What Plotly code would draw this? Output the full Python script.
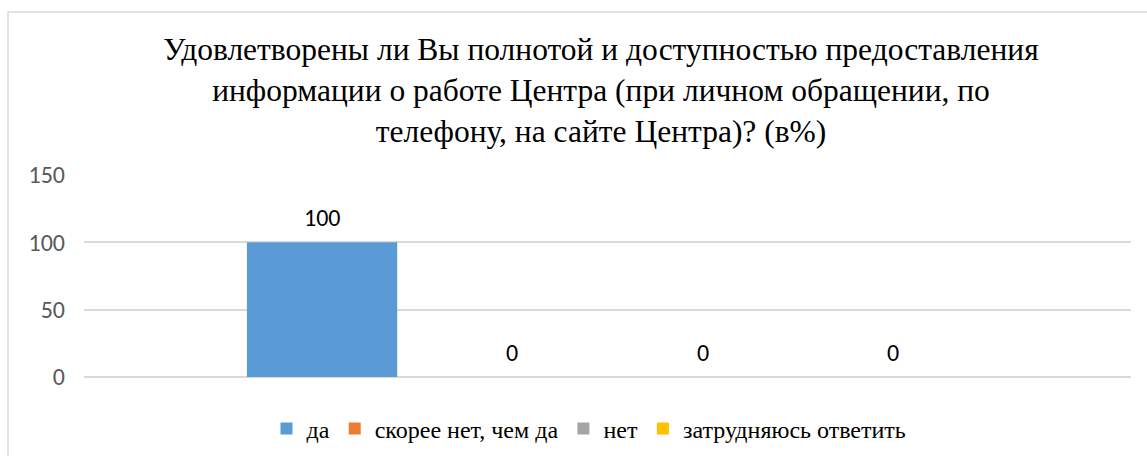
import plotly.graph_objects as go

categories = ["Ответ"]
series_names = ["да", "скорее нет, чем да", "нет", "затрудняюсь ответить"]
series_values = [100, 0, 0, 0]
series_colors = ["#5B9BD5", "#ED7D31", "#A5A5A5", "#FFC000"]
y_ticks = [0, 50, 100, 150]

title_text = ("Удовлетворены ли Вы полнотой и доступностью предоставления<br>"
              "информации о работе Центра (при личном обращении, по<br>"
              "телефону, на сайте Центра)? (в%)")

SERIF = "Times New Roman, Liberation Serif, serif"
SANS = "Calibri, Carlito, Liberation Sans, Arial, sans-serif"

W, H = 1147, 456
ML, MR, MT, MB = 84, 16, 175, 79
BARGAP = 0.273
plot_w = W - ML - MR
slot = plot_w * (1 - BARGAP) / len(series_names)

fig = go.Figure()
for name, val, col in zip(series_names, series_values, series_colors):
    fig.add_trace(go.Bar(
        x=categories, y=[val], name=name,
        marker=dict(color=col, line=dict(width=0)),
    ))

for i, val in enumerate(series_values):
    fig.add_annotation(
        x=categories[0], y=val, xref="x", yref="y",
        text=str(val), showarrow=False,
        xshift=(i - (len(series_values) - 1) / 2) * slot,
        yshift=25,
        font=dict(family=SANS, size=24, color="#000000"),
    )

# chart border
fig.add_shape(type="rect", xref="paper", yref="paper",
              x0=(8 - ML) / plot_w, x1=1.2,
              y0=-1.0, y1=((H - MB) - 12) / (H - MT - MB),
              line=dict(color="#D9D9D9", width=1.5), layer="below")

fig.update_layout(
    width=W, height=H,
    margin=dict(l=ML, r=MR, t=MT, b=MB, autoexpand=False),
    paper_bgcolor="white", plot_bgcolor="white",
    barmode="group", bargap=BARGAP, bargroupgap=0.21,
    title=dict(text=title_text, x=601 / W, xanchor="center",
               yref="container", y=1 - 60 / H, yanchor="top",
               font=dict(family=SERIF, size=31.5, color="#000000")),
    xaxis=dict(showticklabels=False, showgrid=False, zeroline=False,
               showline=False, ticks="", automargin=False),
    yaxis=dict(range=[0, 150], tickvals=y_ticks, showgrid=True,
               gridcolor="#D9D9D9", gridwidth=1.5, zeroline=True,
               zerolinecolor="#D9D9D9", zerolinewidth=1.5, showline=False,
               ticklabelstandoff=18, automargin=False,
               tickfont=dict(family=SANS, size=24, color="#595959")),
    showlegend=True,
    legend=dict(orientation="h", x=589 / W, xref="container", xanchor="center",
                y=1 - 429 / H, yref="container", yanchor="middle",
                font=dict(family=SERIF, size=24, color="#000000"),
                itemwidth=30, bgcolor="rgba(0,0,0,0)"),
)

fig.write_html("out.html", config={"displayModeBar": False},
               post_script="document.body.style.margin='0';")
